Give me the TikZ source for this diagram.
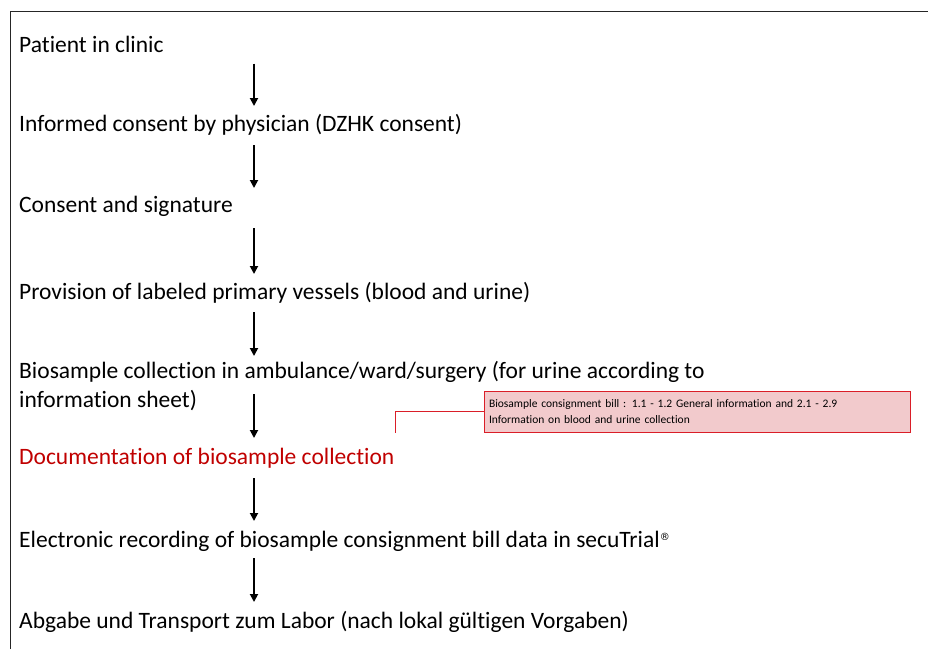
\documentclass[tikz,border=0pt]{standalone}
\usepackage{fontspec}
\setmainfont[Ligatures=NoCommon]{Carlito}
\newfontfamily\symfont{DejaVu Sans}
\usetikzlibrary{arrows.meta,calc}

\definecolor{docred}{RGB}{192,0,0}
\definecolor{notefill}{RGB}{242,202,204}
\definecolor{noteline}{RGB}{218,30,40}

\newcommand{\regmark}{\raisebox{7pt}{\symfont\fontsize{10}{10}\selectfont ®}}

\begin{document}
\begin{tikzpicture}[x=1pt, y=-1pt,
  stage/.style={anchor=base west, inner sep=0pt, align=left,
                font=\fontsize{23.5}{28.5}\selectfont},
  note/.style={rectangle, draw=noteline, line width=0.9pt, fill=notefill,
               text width=416pt, minimum height=41pt, align=left,
               inner xsep=5pt, font=\fontsize{11.5}{16}\selectfont},
  arr/.style={-{Triangle[length=8pt, width=8pt]}, line width=1.8pt},
  link/.style={draw=noteline, line width=0.7pt}
]
  \useasboundingbox (0,0) rectangle (928,649);
  \draw[line width=1pt, black!85] (10,649) -- (10,11) -- (928,11);

  \coordinate (ax) at (254,0);

  \node[stage] (clinic)  at (19,52.7) {Patient in clinic};
  \node[stage] (inform)  at (19,131)  {Informed consent by physician (DZHK consent)};
  \node[stage] (sign)    at (19,212)  {Consent and signature};
  \node[stage] (vessel)  at (19,299)  {Provision of labeled primary vessels (blood and urine)};
  \node[stage] (collect) at (19,407)  {Biosample collection in ambulance/ward/surgery (for urine according to\\information sheet)};
  \node[stage, text=docred] (docu) at (19,464) {Documentation of biosample collection};
  \node[stage] (record)  at (19,547)  {Electronic recording of biosample consignment bill data in secuTrial\regmark};
  \node[stage] (labor)   at (19,628)  {Abgabe und Transport zum Labor (nach lokal gültigen Vorgaben)};

  \draw[arr] ($(clinic.base -| ax)+(0,11)$) -- ($(inform.base -| ax)+(0,-25)$);
  \draw[arr] ($(inform.base -| ax)+(0,14)$) -- ($(sign.base -| ax)+(0,-24)$);
  \draw[arr] ($(sign.base -| ax)+(0,16)$) -- ($(vessel.base -| ax)+(0,-25)$);
  \draw[arr] ($(vessel.base -| ax)+(0,13)$) -- ($(collect.base -| ax)+(0,-51)$);
  \draw[arr] ($(collect.base -| ax)+(0,-13)$) -- ($(docu.base -| ax)+(0,-26)$);
  \draw[arr] ($(docu.base -| ax)+(0,14)$) -- ($(record.base -| ax)+(0,-26)$);
  \draw[arr] ($(record.base -| ax)+(0,11)$) -- ($(labor.base -| ax)+(0,-26)$);

  % note on the consignment bill
  \node[note] (bill) at (697,411.5) {Biosample consignment bill : 1.1 - 1.2 General information and 2.1 - 2.9\\Information on blood and urine collection};
  \coordinate (billtip) at (395,433);
  \draw[link] (bill.west) -| (billtip);
\end{tikzpicture}
\end{document}
